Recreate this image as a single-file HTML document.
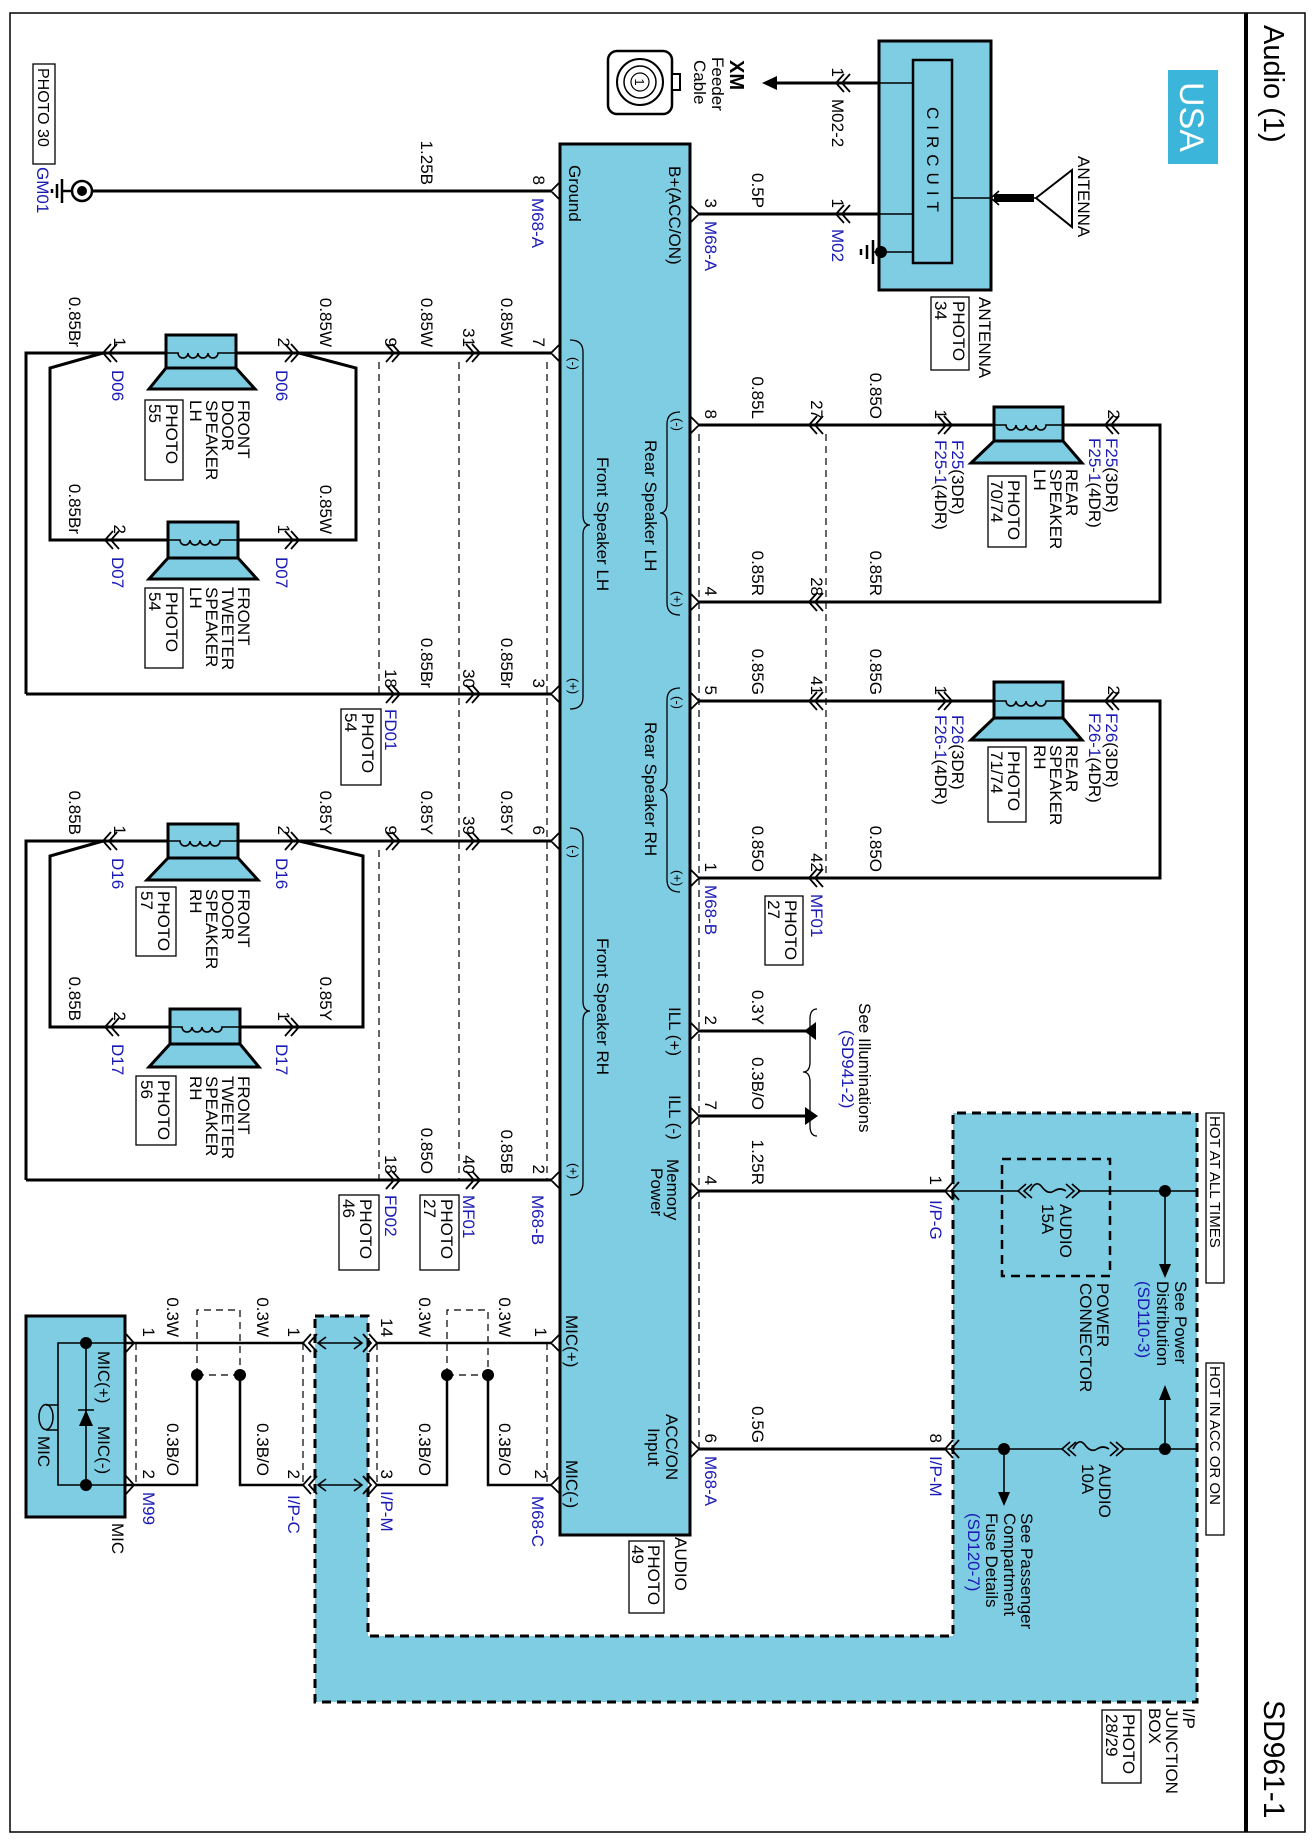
<!DOCTYPE html>
<html><head><meta charset="utf-8"><style>
html,body{margin:0;padding:0;background:#fff}
svg{display:block}
text{font-family:"Liberation Sans",Arial,sans-serif;font-size:17px;fill:#000}
.b{fill:#1a1ab4}
.s{font-size:13px}
.e{text-anchor:end}
.w{stroke:#000;stroke-width:3;fill:none}
.t{stroke:#000;stroke-width:1.6;fill:none}
.d{stroke:#000;stroke-width:1.2;fill:none;stroke-dasharray:7,5}
.bl{fill:#7ecde3;stroke:#000;stroke-width:3}
.bx{fill:#fff;stroke:#000;stroke-width:1.3}
</style></head><body>
<svg width="1314" height="1842" viewBox="0 0 1314 1842" xmlns="http://www.w3.org/2000/svg">
<rect x="0" y="0" width="1314" height="1842" fill="#fff"/>
<rect x="10" y="13" width="1295" height="1819" fill="none" stroke="#000" stroke-width="1.5"/>
<line x1="1246" y1="13" x2="1246" y2="1832" stroke="#000" stroke-width="4"/>
<rect x="1168" y="70" width="50" height="94" fill="#3bb5d9"/>

<path d="M315,1316 H368 V1636 H953 V1113 H1197 V1702 H315 Z" fill="#7ecde3" stroke="#000" stroke-width="3" stroke-dasharray="9,6"/>
<rect x="1002" y="1159" width="108" height="117" fill="none" stroke="#000" stroke-width="2.5" stroke-dasharray="9,6"/>
<rect x="1206" y="1113" width="18" height="170" class="bx"/>
<rect x="1206" y="1363" width="18" height="172" class="bx"/>

<rect x="560" y="144" width="130" height="1391" class="bl"/>
<rect x="879" y="41" width="112" height="249" class="bl"/>
<rect x="913" y="60" width="39" height="203" fill="none" stroke="#000" stroke-width="2.5"/>
<path class="t" d="M879,83 H913 M879,214 H913 M879,252 H913 M952,198 H991 M873,252 H881 M999,191 L991,198 L999,205 M1034,198 H1036"/>
<rect x="994" y="194" width="40" height="8" fill="#000"/>
<path d="M1036,198 L1072,170 L1072,227 Z" fill="none" stroke="#000" stroke-width="2"/>
<circle cx="881" cy="252" r="6" fill="#000"/>
<path d="M873,240 V264 M867,245 V259 M861,249 V255" stroke="#000" stroke-width="2.5"/>
<rect x="608" y="51" width="64" height="63" rx="9" fill="#fff" stroke="#000" stroke-width="2.5"/>
<circle cx="640" cy="82" r="23" fill="none" stroke="#000" stroke-width="2"/>
<circle cx="640" cy="82" r="16" fill="none" stroke="#000" stroke-width="1.5"/>
<rect x="672" y="74" width="8" height="16" fill="#fff" stroke="#000" stroke-width="2"/>

<path class="w" d="M82,191 H551 M699,214 H879 M879,83 H776"/>
<path d="M762,83 L777,76 L777,90 Z" fill="#000"/>
<path class="w" d="M26,694 V353 H166 M236,353 H551 M103,353 L50,368 V540 H168 M238,540 H356 V368 L299,353 M26,694 H551"/>
<path class="w" d="M26,1180 V841 H168 M238,841 H551 M103,841 L50,856 V1027 H170 M240,1027 H363 V856 L299,841 M26,1180 H551"/>
<path class="w" d="M699,425 H994 M1063,425 H1160 V602 H699 M699,701 H994 M1063,701 H1160 V878 H699 M699,1031 H806 M699,1116 H806 M699,1191 H945 M699,1449 H945"/>
<path d="M804,1031 L816,1022 L816,1040 Z M818,1116 L805,1107 L805,1125 Z" fill="#000"/>
<path class="t" d="M945,1191 H1018 M1078,1191 H1197 M1165,1191 V1266 M945,1449 H1062 M1122,1449 H1197 M1004,1449 V1494 M1165,1449 V1398"/>
<path class="t" d="M1030,1191 q6,-12 12,-4 q6,8 12,4 q6,-4 12,0 M1073,1449 q6,-12 12,-4 q6,8 12,4 q6,-4 12,0"/>
<path class="t" d="M1026,1184 L1018,1191 L1026,1198 M1032,1184 L1024,1191 L1032,1198 M1072,1184 L1080,1191 L1072,1198 M1066,1184 L1074,1191 L1066,1198 M1070,1442 L1062,1449 L1070,1456 M1076,1442 L1068,1449 L1076,1456 M1116,1442 L1124,1449 L1116,1456 M1110,1442 L1118,1449 L1110,1456"/>
<circle cx="1165" cy="1191" r="6" fill="#000"/><circle cx="1004" cy="1449" r="6" fill="#000"/><circle cx="1165" cy="1449" r="6" fill="#000"/>
<path d="M1159,1264 L1171,1264 L1165,1278 Z M998,1492 L1010,1492 L1004,1506 Z M1159,1400 L1171,1400 L1165,1385 Z" fill="#000"/>

<rect x="26" y="1316" width="99" height="201" class="bl"/>
<path class="w" style="stroke-width:2.5" d="M551,1343 H377 M303,1343 H125 M551,1485 H488 V1375 M447,1375 V1485 H377 M303,1485 H240 V1375 M197,1375 V1485 H125"/>
<path class="t" d="M318,1343 H362 M318,1485 H362 M326,1337 L318,1343 L326,1349 M354,1337 L362,1343 L354,1349 M326,1479 L318,1485 L326,1491 M354,1479 L362,1485 L354,1491"/>
<path class="d" d="M197,1375 V1310 H240 V1375 M197,1375 H240 M447,1375 V1310 H488 V1375 M447,1375 H488 M136,1343 V1485 M303,1343 V1485 M377,1343 V1485 M547,1343 V1485"/>
<circle cx="197" cy="1375" r="6"/><circle cx="240" cy="1375" r="6"/><circle cx="447" cy="1375" r="6"/><circle cx="488" cy="1375" r="6"/>
<path class="t" d="M86,1343 H125 M86,1485 H125 M86,1343 V1485 M86,1343 H58 V1485 H86 M78,1410 H94 M58,1405 H46 M58,1430 H46"/>
<ellipse cx="46" cy="1417" rx="7" ry="12.5" fill="none" stroke="#000" stroke-width="1.5"/>
<path d="M86,1410 L79,1426 L93,1426 Z" fill="#000"/>
<circle cx="86" cy="1343" r="6"/><circle cx="86" cy="1485" r="6"/>

<g stroke="#000" stroke-width="3" fill="#7ecde3">
<path d="M166,368 L236,368 L255,389 L149,389 Z"/><rect x="166" y="335" width="70" height="33"/>
<path d="M168,558 L238,558 L257,579 L149,579 Z"/><rect x="168" y="522" width="70" height="36"/>
<path d="M168,858 L238,858 L258,880 L147,880 Z"/><rect x="168" y="824" width="70" height="34"/>
<path d="M170,1044 L240,1044 L259,1067 L149,1067 Z"/><rect x="170" y="1009" width="70" height="35"/>
<path d="M994,441 L1063,441 L1082,463 L971,463 Z"/><rect x="994" y="407" width="69" height="34"/>
<path d="M994,718 L1063,718 L1082,740 L971,740 Z"/><rect x="994" y="682" width="69" height="36"/>
</g>
<path class="t" d="M166,353 h12 a5,5 0 0 0 10,0 a5,5 0 0 0 10,0 a5,5 0 0 0 10,0 a5,5 0 0 0 10,0 H236 M168,540 h12 a5,5 0 0 0 10,0 a5,5 0 0 0 10,0 a5,5 0 0 0 10,0 a5,5 0 0 0 10,0 H238 M168,841 h12 a5,5 0 0 0 10,0 a5,5 0 0 0 10,0 a5,5 0 0 0 10,0 a5,5 0 0 0 10,0 H238 M170,1027 h12 a5,5 0 0 0 10,0 a5,5 0 0 0 10,0 a5,5 0 0 0 10,0 a5,5 0 0 0 10,0 H240 M994,425 h12 a5,5 0 0 0 10,0 a5,5 0 0 0 10,0 a5,5 0 0 0 10,0 a5,5 0 0 0 10,0 H1063 M994,701 h12 a5,5 0 0 0 10,0 a5,5 0 0 0 10,0 a5,5 0 0 0 10,0 a5,5 0 0 0 10,0 H1063"/>

<path class="d" d="M547,362 V1180 M459,362 V1180 M379,362 V694 M379,850 V1180 M699,434 V1449 M826,434 V878"/>

<path class="t" style="stroke-width:1.8" d="
M560,182 L551,191 L560,200 M560,344 L551,353 L560,362 M560,685 L551,694 L560,703 M560,832 L551,841 L560,850 M560,1171 L551,1180 L560,1189 M560,1334 L551,1343 L560,1352 M560,1476 L551,1485 L560,1494
M690,205 L699,214 L690,223 M690,416 L699,425 L690,434 M690,593 L699,602 L690,611 M690,692 L699,701 L690,710 M690,869 L699,878 L690,887 M690,1022 L699,1031 L690,1040 M690,1107 L699,1116 L690,1125 M690,1182 L699,1191 L690,1200 M690,1440 L699,1449 L690,1458
M386,344 L394,353 L386,362 M392,344 L400,353 L392,362 M466,344 L474,353 L466,362 M472,344 L480,353 L472,362 M285,344 L293,353 L285,362 M291,344 L299,353 L291,362 M111,344 L103,353 L111,362 M117,344 L109,353 L117,362
M285,531 L293,540 L285,549 M291,531 L299,540 L291,549 M113,531 L105,540 L113,549 M119,531 L111,540 L119,549
M386,685 L394,694 L386,703 M392,685 L400,694 L392,703 M466,685 L474,694 L466,703 M472,685 L480,694 L472,703
M386,832 L394,841 L386,850 M392,832 L400,841 L392,850 M466,832 L474,841 L466,850 M472,832 L480,841 L472,850 M285,832 L293,841 L285,850 M291,832 L299,841 L291,850 M111,832 L103,841 L111,850 M117,832 L109,841 L117,850
M285,1018 L293,1027 L285,1036 M291,1018 L299,1027 L291,1036 M113,1018 L105,1027 L113,1036 M119,1018 L111,1027 L119,1036
M386,1171 L394,1180 L386,1189 M392,1171 L400,1180 L392,1189 M466,1171 L474,1180 L466,1189 M472,1171 L480,1180 L472,1189
M844,74 L836,83 L844,92 M850,74 L842,83 L850,92 M844,205 L836,214 L844,223 M850,205 L842,214 L850,223
M817,416 L809,425 L817,434 M823,416 L815,425 L823,434 M817,593 L809,602 L817,611 M823,593 L815,602 L823,611 M817,692 L809,701 L817,710 M823,692 L815,701 L823,710 M817,869 L809,878 L817,887 M823,869 L815,878 L823,887
M938,416 L946,425 L938,434 M944,416 L952,425 L944,434 M938,692 L946,701 L938,710 M944,692 L952,701 L944,710
M1113,416 L1105,425 L1113,434 M1119,416 L1111,425 L1119,434 M1113,692 L1105,701 L1113,710 M1119,692 L1111,701 L1119,710
M953,1182 L945,1191 L953,1200 M959,1182 L951,1191 L959,1200 M953,1440 L945,1449 L953,1458 M959,1440 L951,1449 L959,1458
M311,1334 L303,1343 L311,1352 M317,1334 L309,1343 L317,1352 M311,1476 L303,1485 L311,1494 M317,1476 L309,1485 L317,1494
M369,1334 L377,1343 L369,1352 M363,1334 L371,1343 L363,1352 M369,1476 L377,1485 L369,1494 M363,1476 L371,1485 L363,1494
M126,1334 L134,1343 L126,1352 M126,1476 L134,1485 L126,1494"/>

<path class="t" style="stroke-width:1.3" d="M570,340 Q583,340 583,352 L583,515 Q583,525 590,525 Q583,525 583,535 L583,697 Q583,709 570,709
M570,828 Q583,828 583,840 L583,1001 Q583,1011 590,1011 Q583,1011 583,1021 L583,1183 Q583,1195 570,1195
M680,412 Q667,412 667,424 L667,503 Q667,513 660,513 Q667,513 667,523 L667,603 Q667,615 680,615
M680,688 Q667,688 667,700 L667,780 Q667,790 660,790 Q667,790 667,800 L667,880 Q667,892 680,892
M817,1009 Q810,1009 810,1019 L810,1062 Q810,1072 803,1072 Q810,1072 810,1082 L810,1126 Q810,1136 817,1136"/>

<circle cx="82" cy="191" r="10" fill="#fff" stroke="#000" stroke-width="2.5"/>
<circle cx="82" cy="191" r="5" fill="#000"/>
<path d="M72,191 H62 M62,179 V203 M57,184 V198 M52,189 V193" stroke="#000" stroke-width="2.5"/>

<rect x="33" y="64" width="22" height="100" class="bx"/>
<rect x="145" y="400" width="38" height="80" class="bx"/>
<rect x="145" y="588" width="38" height="80" class="bx"/>
<rect x="341" y="709" width="40" height="76" class="bx"/>
<rect x="136" y="887" width="40" height="69" class="bx"/>
<rect x="136" y="1076" width="40" height="69" class="bx"/>
<rect x="339" y="1195" width="40" height="75" class="bx"/>
<rect x="420" y="1195" width="39" height="75" class="bx"/>
<rect x="931" y="297" width="38" height="73" class="bx"/>
<rect x="988" y="476" width="38" height="71" class="bx"/>
<rect x="988" y="747" width="38" height="75" class="bx"/>
<rect x="765" y="896" width="38" height="69" class="bx"/>
<rect x="629" y="1541" width="35" height="72" class="bx"/>
<rect x="1102" y="1710" width="39" height="73" class="bx"/>

<circle cx="640" cy="82" r="9" fill="none" stroke="#000" stroke-width="1.2"/>

<g transform="rotate(90)">
<text x="25" y="-1264" style="font-size:29px">Audio (1)</text>
<text x="1700" y="-1264" style="font-size:30px">SD961-1</text>
<text x="117" y="-1180" style="font-size:34px;fill:#fff;text-anchor:middle">USA</text>
<text x="68" y="-38" style="font-size:16px">PHOTO 30</text>
<text x="167" y="-37" class="b">GM01</text>
<text x="82" y="-635" class="s" style="text-anchor:middle">1</text>
<text x="60" y="-730" style="font-size:20px;font-weight:bold">XM</text>
<text x="57" y="-712">Feeder</text>
<text x="60" y="-694">Cable</text>
<text x="107" y="-927" style="letter-spacing:6px">CIRCUIT</text>
<text x="156" y="-1078">ANTENNA</text>
<text x="297" y="-979">ANTENNA</text>
<text x="301" y="-953">PHOTO</text><text x="301" y="-935">34</text>

<text x="185" y="-421" class="e">1.25B</text>
<text x="185" y="-533" class="e">8</text>
<text x="198" y="-532" class="b">M68-A</text>
<text x="165" y="-569">Ground</text>
<text x="166" y="-669">B+(ACC/ON)</text>
<text x="208" y="-705" class="e">3</text>
<text x="221" y="-705" class="b">M68-A</text>
<text x="208" y="-752" class="e">0.5P</text>
<text x="208" y="-832" class="e">1</text>
<text x="229" y="-832" class="b">M02</text>
<text x="77" y="-832" class="e">1</text>
<text x="99" y="-832">M02-2</text>

<text x="347" y="-69" class="e">0.85Br</text>
<text x="347" y="-114" class="e">1</text>
<text x="370" y="-112" class="b">D06</text>
<text x="347" y="-278" class="e">2</text>
<text x="370" y="-276" class="b">D06</text>
<text x="347" y="-320" class="e">0.85W</text>
<text x="347" y="-385" class="e">9</text>
<text x="347" y="-421" class="e">0.85W</text>
<text x="347" y="-463" class="e">31</text>
<text x="347" y="-501" class="e">0.85W</text>
<text x="347" y="-533" class="e">7</text>
<text x="400" y="-238">FRONT</text><text x="400" y="-222">DOOR</text><text x="400" y="-206">SPEAKER</text><text x="400" y="-190">LH</text>
<text x="404" y="-166">PHOTO</text><text x="404" y="-149">55</text>
<text x="534" y="-69" class="e">0.85Br</text>
<text x="534" y="-114" class="e">2</text>
<text x="557" y="-112" class="b">D07</text>
<text x="534" y="-278" class="e">1</text>
<text x="557" y="-276" class="b">D07</text>
<text x="534" y="-320" class="e">0.85W</text>
<text x="587" y="-238">FRONT</text><text x="587" y="-222">TWEETER</text><text x="587" y="-206">SPEAKER</text><text x="587" y="-190">LH</text>
<text x="592" y="-166">PHOTO</text><text x="592" y="-149">54</text>
<text x="688" y="-385" class="e">18</text>
<text x="688" y="-421" class="e">0.85Br</text>
<text x="688" y="-463" class="e">30</text>
<text x="688" y="-501" class="e">0.85Br</text>
<text x="688" y="-533" class="e">3</text>
<text x="709" y="-385" class="b">FD01</text>
<text x="713" y="-362">PHOTO</text><text x="713" y="-345">54</text>
<text x="457" y="-597">Front Speaker LH</text>
<text x="440" y="-645">Rear Speaker LH</text>
<text x="357" y="-569" class="s">(-)</text>
<text x="678" y="-569" class="s">(+)</text>

<text x="835" y="-69" class="e">0.85B</text>
<text x="835" y="-114" class="e">1</text>
<text x="858" y="-112" class="b">D16</text>
<text x="835" y="-278" class="e">2</text>
<text x="858" y="-276" class="b">D16</text>
<text x="835" y="-320" class="e">0.85Y</text>
<text x="835" y="-385" class="e">9</text>
<text x="835" y="-421" class="e">0.85Y</text>
<text x="835" y="-463" class="e">39</text>
<text x="835" y="-501" class="e">0.85Y</text>
<text x="835" y="-533" class="e">6</text>
<text x="889" y="-238">FRONT</text><text x="889" y="-222">DOOR</text><text x="889" y="-206">SPEAKER</text><text x="889" y="-190">RH</text>
<text x="891" y="-158">PHOTO</text><text x="891" y="-141">57</text>
<text x="1021" y="-69" class="e">0.85B</text>
<text x="1021" y="-114" class="e">2</text>
<text x="1044" y="-112" class="b">D17</text>
<text x="1021" y="-278" class="e">1</text>
<text x="1044" y="-276" class="b">D17</text>
<text x="1021" y="-320" class="e">0.85Y</text>
<text x="1076" y="-238">FRONT</text><text x="1076" y="-222">TWEETER</text><text x="1076" y="-206">SPEAKER</text><text x="1076" y="-190">RH</text>
<text x="1080" y="-158">PHOTO</text><text x="1080" y="-141">56</text>
<text x="1174" y="-385" class="e">18</text>
<text x="1174" y="-421" class="e">0.85O</text>
<text x="1174" y="-463" class="e">40</text>
<text x="1174" y="-501" class="e">0.85B</text>
<text x="1174" y="-533" class="e">2</text>
<text x="1195" y="-385" class="b">FD02</text>
<text x="1195" y="-463" class="b">MF01</text>
<text x="1195" y="-532" class="b">M68-B</text>
<text x="1199" y="-360">PHOTO</text><text x="1199" y="-343">46</text>
<text x="1199" y="-441">PHOTO</text><text x="1199" y="-424">27</text>
<text x="938" y="-597">Front Speaker RH</text>
<text x="722" y="-645">Rear Speaker RH</text>
<text x="845" y="-569" class="s">(-)</text>
<text x="1163" y="-569" class="s">(+)</text>

<text x="419" y="-705" class="e">8</text>
<text x="419" y="-752" class="e">0.85L</text>
<text x="419" y="-811" class="e">27</text>
<text x="419" y="-870" class="e">0.85O</text>
<text x="419" y="-935" class="e">1</text>
<text x="419" y="-1108" class="e">2</text>
<text x="440" y="-952"><tspan class="b">F25</tspan>(3DR)</text>
<text x="440" y="-935"><tspan class="b">F25-1</tspan>(4DR)</text>
<text x="438" y="-1106"><tspan class="b">F25</tspan>(3DR)</text>
<text x="438" y="-1089"><tspan class="b">F25-1</tspan>(4DR)</text>
<text x="469" y="-1066">REAR</text><text x="469" y="-1050">SPEAKER</text><text x="469" y="-1034">LH</text>
<text x="480" y="-1008">PHOTO</text><text x="480" y="-991">70/74</text>
<text x="596" y="-705" class="e">4</text>
<text x="596" y="-752" class="e">0.85R</text>
<text x="596" y="-811" class="e">28</text>
<text x="596" y="-870" class="e">0.85R</text>
<text x="418" y="-673" class="s">(-)</text>
<text x="591" y="-673" class="s">(+)</text>

<text x="695" y="-705" class="e">5</text>
<text x="695" y="-752" class="e">0.85G</text>
<text x="695" y="-811" class="e">41</text>
<text x="695" y="-870" class="e">0.85G</text>
<text x="695" y="-935" class="e">1</text>
<text x="695" y="-1108" class="e">2</text>
<text x="715" y="-952"><tspan class="b">F26</tspan>(3DR)</text>
<text x="715" y="-935"><tspan class="b">F26-1</tspan>(4DR)</text>
<text x="713" y="-1106"><tspan class="b">F26</tspan>(3DR)</text>
<text x="713" y="-1089"><tspan class="b">F26-1</tspan>(4DR)</text>
<text x="745" y="-1066">REAR</text><text x="745" y="-1050">SPEAKER</text><text x="745" y="-1034">RH</text>
<text x="751" y="-1008">PHOTO</text><text x="751" y="-991">71/74</text>
<text x="872" y="-705" class="e">1</text>
<text x="872" y="-752" class="e">0.85O</text>
<text x="872" y="-811" class="e">42</text>
<text x="872" y="-870" class="e">0.85O</text>
<text x="885" y="-705" class="b">M68-B</text>
<text x="894" y="-811" class="b">MF01</text>
<text x="900" y="-785">PHOTO</text><text x="900" y="-768">27</text>
<text x="696" y="-673" class="s">(-)</text>
<text x="870" y="-673" class="s">(+)</text>

<text x="1025" y="-705" class="e">2</text>
<text x="1025" y="-752" class="e">0.3Y</text>
<text x="1110" y="-705" class="e">7</text>
<text x="1110" y="-752" class="e">0.3B/O</text>
<text x="1007" y="-669">ILL (+)</text>
<text x="1095" y="-669">ILL (-)</text>
<text x="1003" y="-859">See Illuminations</text>
<text x="1030" y="-842" class="b">(SD941-2)</text>
<text x="1185" y="-705" class="e">4</text>
<text x="1185" y="-752" class="e">1.25R</text>
<text x="1185" y="-930" class="e">1</text>
<text x="1200" y="-930" class="b">I/P-G</text>
<text x="1159" y="-667">Memory</text>
<text x="1168" y="-651">Power</text>
<text x="1443" y="-705" class="e">6</text>
<text x="1443" y="-752" class="e">0.5G</text>
<text x="1443" y="-930" class="e">8</text>
<text x="1456" y="-705" class="b">M68-A</text>
<text x="1456" y="-930" class="b">I/P-M</text>
<text x="1414" y="-666">ACC/ON</text>
<text x="1428" y="-648">Input</text>
<text x="1204" y="-1060">AUDIO</text><text x="1204" y="-1042">15A</text>
<text x="1464" y="-1099">AUDIO</text><text x="1464" y="-1082">10A</text>
<text x="1283" y="-1097">POWER</text><text x="1283" y="-1080">CONNECTOR</text>
<text x="1281" y="-1175">See Power</text><text x="1281" y="-1157">Distribution</text><text x="1281" y="-1138" class="b">(SD110-3)</text>
<text x="1513" y="-1021">See Passenger</text><text x="1513" y="-1004">Compartment</text><text x="1513" y="-986">Fuse Details</text><text x="1513" y="-968" class="b">(SD120-7)</text>
<text x="1116" y="-1210" style="font-size:15px">HOT AT ALL TIMES</text>
<text x="1366" y="-1210" style="font-size:15px">HOT IN ACC OR ON</text>
<text x="1708" y="-1183">I/P</text><text x="1708" y="-1166">JUNCTION</text><text x="1708" y="-1149">BOX</text>
<text x="1714" y="-1123">PHOTO</text><text x="1714" y="-1106">28/29</text>
<text x="1537" y="-675">AUDIO</text>
<text x="1545" y="-648">PHOTO</text><text x="1545" y="-632">49</text>

<text x="1337" y="-499" class="e">0.3W</text>
<text x="1337" y="-535" class="e">1</text>
<text x="1337" y="-419" class="e">0.3W</text>
<text x="1337" y="-381" class="e">14</text>
<text x="1337" y="-288" class="e">1</text>
<text x="1337" y="-257" class="e">0.3W</text>
<text x="1337" y="-167" class="e">0.3W</text>
<text x="1337" y="-143" class="e">1</text>
<text x="1476" y="-499" class="e">0.3B/O</text>
<text x="1479" y="-535" class="e">2</text>
<text x="1476" y="-419" class="e">0.3B/O</text>
<text x="1479" y="-381" class="e">3</text>
<text x="1479" y="-288" class="e">2</text>
<text x="1476" y="-257" class="e">0.3B/O</text>
<text x="1476" y="-167" class="e">0.3B/O</text>
<text x="1479" y="-143" class="e">2</text>
<text x="1496" y="-532" class="b">M68-C</text>
<text x="1491" y="-381" class="b">I/P-M</text>
<text x="1495" y="-288" class="b">I/P-C</text>
<text x="1492" y="-143" class="b">M99</text>
<text x="1523" y="-112">MIC</text>
<text x="1351" y="-98">MIC(+)</text>
<text x="1426" y="-98">MIC(-)</text>
<text x="1436" y="-38">MIC</text>
<text x="1315" y="-566">MIC(+)</text>
<text x="1460" y="-566">MIC(-)</text>
</g>
</svg>
</body></html>
